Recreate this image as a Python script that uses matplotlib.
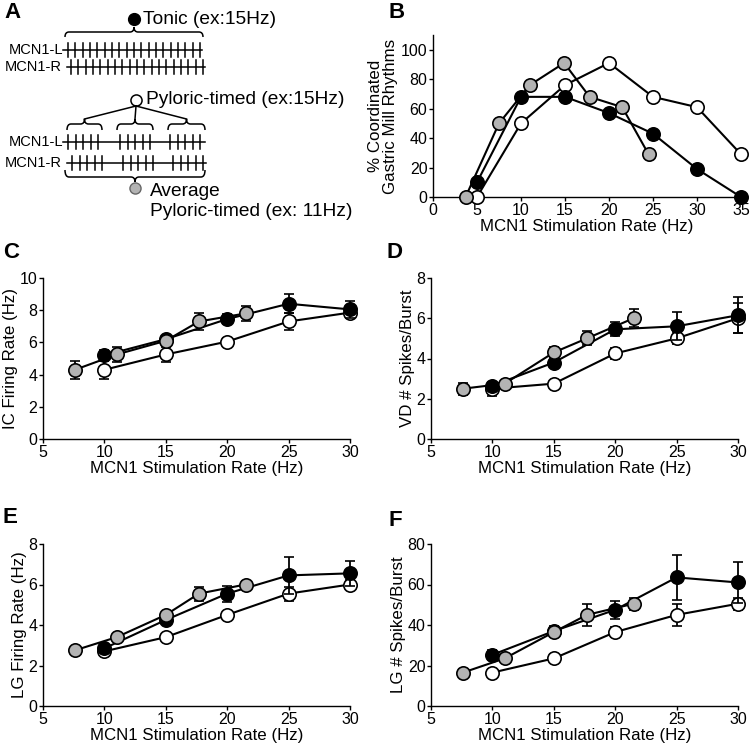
import numpy as np
import matplotlib
matplotlib.use('Agg')
import matplotlib.pyplot as plt
from matplotlib.path import Path
from matplotlib.patches import PathPatch

plt.rcParams['font.family'] = ['Liberation Sans', 'DejaVu Sans']
plt.rcParams['font.size'] = 10

# Panel B: % coordinated gastric mill rhythms
stim_b = [5, 10, 15, 20, 25, 30, 35]
tonic_b = [10, 68, 68, 57, 43, 19, 0]
pyl_b = [0, 50, 76, 91, 68, 61, 29]
avg_x_b = [3.7, 7.5, 11, 14.9, 17.8, 21.5, 24.5]
avg_b = [0, 50, 76, 91, 68, 61, 29]

# Panels C-F share stimulation rates
stim = [10, 15, 20, 25, 30]
avg_x = [7.6, 11, 15, 17.7, 21.5]

# C: IC firing rate
tonic_c = [5.2, 6.2, 7.45, 8.4, 8.05]
tonic_c_err = [0.3, 0.2, 0.3, 0.6, 0.55]
pyl_c = [4.3, 5.25, 6.05, 7.3, 7.85]
pyl_c_err = [0.55, 0.45, 0.25, 0.5, 0.3]
avg_c = [4.3, 5.25, 6.1, 7.3, 7.8]
avg_c_err = [0.55, 0.45, 0.3, 0.55, 0.45]

# D: VD spikes/burst
tonic_d = [2.65, 3.8, 5.45, 5.6, 6.15]
tonic_d_err = [0.15, 0.2, 0.35, 0.7, 0.9]
pyl_d = [2.5, 2.75, 4.25, 5.0, 6.0]
pyl_d_err = [0.35, 0.15, 0.25, 0.3, 0.75]
avg_d = [2.5, 2.75, 4.3, 5.0, 6.0]
avg_d_err = [0.3, 0.15, 0.25, 0.35, 0.45]

# E: LG firing rate
tonic_e = [2.85, 4.25, 5.55, 6.45, 6.55]
tonic_e_err = [0.2, 0.15, 0.4, 0.9, 0.6]
pyl_e = [2.7, 3.4, 4.5, 5.55, 6.0]
pyl_e_err = [0.15, 0.1, 0.1, 0.35, 0.2]
avg_e = [2.75, 3.4, 4.5, 5.55, 6.0]
avg_e_err = [0.15, 0.1, 0.15, 0.35, 0.15]

# F: LG spikes/burst
tonic_f = [25.3, 37, 47.5, 63.5, 61]
tonic_f_err = [2.5, 2.5, 4.5, 11, 10]
pyl_f = [16.5, 23.5, 36.5, 45, 50.5]
pyl_f_err = [2, 2, 2.5, 5.5, 3]
avg_f = [16.5, 23.5, 36.5, 45, 50.5]
avg_f_err = [2, 2, 2.5, 5.5, 3]

XLABEL = 'MCN1 Stimulation Rate (Hz)'
W, H = 750, 748
MS = 9.6
LABEL_FS = 12.2
TICK_FS = 11.5
A_FS = 13.8


def rect(x0, y0, x1, y1):
    # pixel box -> figure fraction
    return [x0 / W, 1 - y1 / H, (x1 - x0) / W, (y1 - y0) / H]


def style_axis(ax):
    for s in ['top', 'right']:
        ax.spines[s].set_visible(False)
    for s in ['left', 'bottom']:
        ax.spines[s].set_linewidth(1.0)
    ax.tick_params(direction='out', length=3, width=1.0, pad=1, labelsize=TICK_FS)


def series(ax, x, y, err, face, z):
    ax.errorbar(x, y, yerr=err, fmt='-o', color='black', mfc=face, mec='black',
                ms=MS, mew=1.2, lw=1.5, elinewidth=1.3, capsize=3.5, capthick=1.3,
                clip_on=False, zorder=z)


fig = plt.figure(figsize=(7.5, 7.48), dpi=100)

# ---------------- Panel A (schematic) ----------------
axa = fig.add_axes([0, 1 - 250 / H, 375 / W, 250 / H])
axa.set_xlim(0, 375)
axa.set_ylim(250, 0)
axa.axis('off')

TONIC_SPIKES = 19
BURST_SPIKES = 5
BURST_STARTS_L = [68, 120, 170]
BURST_STARTS_R = [72, 123, 173]


def brace(ax, x0, x1, y_body, y_end, y_peak):
    xm = (x0 + x1) / 2
    r = 4
    verts = [(x0, y_end), (x0, y_body), (x0 + r, y_body),
             (xm - r, y_body),
             (xm, y_body), (xm, y_peak),
             (xm, y_body), (xm + r, y_body),
             (x1 - r, y_body),
             (x1, y_body), (x1, y_end)]
    codes = [Path.MOVETO, Path.CURVE3, Path.CURVE3, Path.LINETO,
             Path.CURVE3, Path.CURVE3, Path.CURVE3, Path.CURVE3,
             Path.LINETO, Path.CURVE3, Path.CURVE3]
    ax.add_patch(PathPatch(Path(verts, codes), fc='none', ec='black', lw=1.1))


def train(ax, x0, x1, y, spikes):
    ax.plot([x0, x1], [y, y], color='black', lw=1.1)
    for s in spikes:
        ax.plot([s, s], [y - 7, y + 7], color='black', lw=1.1)


# tonic
axa.plot(134, 19, 'o', ms=8.5, mfc='black', mec='black')
axa.text(143, 19, 'Tonic (ex:15Hz)', fontsize=A_FS, va='center', ha='left')
brace(axa, 65, 203, 32, 37, 27)
axa.text(63, 50, 'MCN1-L', fontsize=10.5, ha='right', va='center')
train(axa, 63, 202, 50, np.linspace(68, 200, TONIC_SPIKES))
axa.text(62, 67, 'MCN1-R', fontsize=10.5, ha='right', va='center')
train(axa, 67, 205, 67, np.linspace(71, 203, TONIC_SPIKES))

# pyloric-timed
axa.plot(136, 100, 'o', ms=8, mfc='white', mec='black', mew=1.1)
axa.text(146, 100, 'Pyloric-timed (ex:15Hz)', fontsize=A_FS, va='center', ha='left')
for xb0, xb1 in [(67, 102), (117, 153), (168, 205)]:
    xm = (xb0 + xb1) / 2
    axa.plot([136, xm], [106, 119], color='black', lw=1.1)
    brace(axa, xb0, xb1, 124, 130, 119)
axa.text(63, 142, 'MCN1-L', fontsize=10.5, ha='right', va='center')
train(axa, 63, 205, 142,
      [b + 7.5 * i for b in BURST_STARTS_L for i in range(BURST_SPIKES)])
axa.text(62, 163, 'MCN1-R', fontsize=10.5, ha='right', va='center')
train(axa, 67, 206, 163,
      [b + 7.5 * i for b in BURST_STARTS_R for i in range(BURST_SPIKES)])
brace(axa, 65, 205, 177, 170, 182)

# average
axa.plot(135, 188, 'o', ms=8, mfc='#b3b3b3', mec='#666666', mew=1.0)
axa.text(150, 191, 'Average', fontsize=A_FS, va='center', ha='left')
axa.text(150, 212, 'Pyloric-timed (ex: 11Hz)', fontsize=A_FS, va='center', ha='left')

# ---------------- Panel B ----------------
axb = fig.add_axes(rect(433, 35, 741, 197))
style_axis(axb)
axb.plot(stim_b, pyl_b, '-o', color='black', mfc='white', mec='black', ms=MS,
         mew=1.2, lw=1.5, clip_on=False, zorder=3)
axb.plot(stim_b, tonic_b, '-o', color='black', mfc='black', mec='black', ms=MS,
         mew=1.2, lw=1.5, clip_on=False, zorder=4)
axb.plot(avg_x_b, avg_b, '-o', color='black', mfc='#b3b3b3', mec='black', ms=MS,
         mew=1.2, lw=1.5, clip_on=False, zorder=5)
axb.set_xlim(0, 35)
axb.set_ylim(0, 110)
axb.set_xticks(range(0, 36, 5))
axb.set_yticks(range(0, 101, 20))
axb.set_xlabel(XLABEL, fontsize=LABEL_FS, labelpad=1)
axb.set_ylabel('% Coordinated\nGastric Mill Rhythms', fontsize=LABEL_FS,
               labelpad=2, linespacing=1.0)

# ---------------- Panels C-F ----------------
panels = [
    (rect(43, 278, 350, 439), (tonic_c, tonic_c_err), (pyl_c, pyl_c_err),
     (avg_c, avg_c_err), 10, 2, 'IC Firing Rate (Hz)'),
    (rect(431, 278, 738, 439), (tonic_d, tonic_d_err), (pyl_d, pyl_d_err),
     (avg_d, avg_d_err), 8, 2, 'VD # Spikes/Burst'),
    (rect(43, 544, 350, 706), (tonic_e, tonic_e_err), (pyl_e, pyl_e_err),
     (avg_e, avg_e_err), 8, 2, 'LG Firing Rate (Hz)'),
    (rect(431, 544, 738, 706), (tonic_f, tonic_f_err), (pyl_f, pyl_f_err),
     (avg_f, avg_f_err), 80, 20, 'LG # Spikes/Burst'),
]

for box, tonic, pyl, avg, ymax, ystep, ylab in panels:
    ax = fig.add_axes(box)
    style_axis(ax)
    series(ax, stim, pyl[0], pyl[1], 'white', 3)
    series(ax, stim, tonic[0], tonic[1], 'black', 4)
    series(ax, avg_x, avg[0], avg[1], '#b3b3b3', 5)
    ax.set_xlim(5, 30)
    ax.set_ylim(0, ymax)
    ax.set_xticks(range(5, 31, 5))
    ax.set_yticks(np.arange(0, ymax + 1, ystep))
    ax.set_xlabel(XLABEL, fontsize=LABEL_FS, labelpad=1)
    ax.set_ylabel(ylab, fontsize=LABEL_FS, labelpad=1)

# panel letters
for letter, px, py in [('A', 4, 2), ('B', 388, 2), ('C', 3, 242),
                       ('D', 387, 242), ('E', 3, 507), ('F', 388, 510)]:
    fig.text(px / W, 1 - py / H, letter, fontsize=16, fontweight='bold',
             ha='left', va='top')

fig.savefig('out.png', dpi=100)
